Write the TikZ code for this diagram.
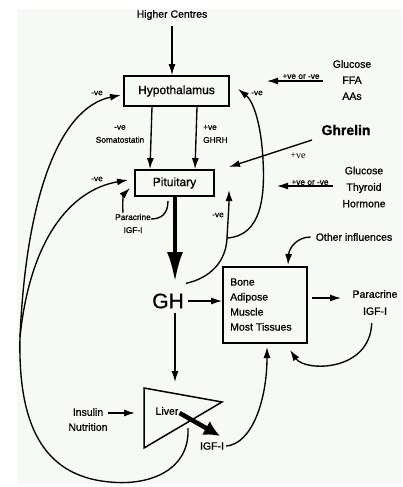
\documentclass[tikz,border=0pt]{standalone}
\usepackage{fontspec}
\setmainfont{Liberation Sans}[FakeBold=0.8]
\newfontfamily\seriffam{Liberation Serif}
\usetikzlibrary{arrows.meta}
\definecolor{panel}{RGB}{247,249,244}
\begin{document}
\begin{tikzpicture}[x=1pt,y=-1pt,
  txt/.style={font=\fontsize{10.5}{15}\selectfont, inner sep=0pt, align=center},
  sml/.style={font=\fontsize{8.3}{13}\selectfont, inner sep=0pt, align=center},
  boxed/.style={draw, line width=1.8pt, inner sep=0pt},
  arr/.style={line width=1.35pt, -{Latex[length=11pt,width=7pt]}},
  ln/.style={line width=1.35pt},
]
\useasboundingbox (0,0) rectangle (402,487);
\fill[panel] (17,9) rectangle (402,484);

% ---------- nodes ----------
\node[txt] (hc) at (172,15) {Higher Centres};
\node[boxed, minimum width=105pt, minimum height=30pt, font=\fontsize{12}{14}\selectfont] (hyp) at (176.5,91) {Hypothalamus};
\node[boxed, minimum width=79pt, minimum height=26pt, font=\fontsize{12}{14}\selectfont] (pit) at (174.5,183) {Pituitary};
\node[boxed, minimum width=84pt, minimum height=76pt] (tis) at (265,305) {};
\node[txt, align=left, anchor=west] (tistxt) at (230,304.5) {Bone\\Adipose\\Muscle\\Most Tissues};
\node[inner sep=0pt, font=\fontsize{21}{24}\selectfont] (gh) at (168,301) {GH};

\node[txt, font=\fontsize{10.5}{16}\selectfont] (g1) at (352,80) {Glucose\\FFA\\AAs};
\node[inner sep=0pt, font=\bfseries\fontsize{14}{16}\selectfont] (ghr) at (346,130) {Ghrelin};
\node[txt, font=\fontsize{10.5}{16.5}\selectfont] (gth) at (364,187) {Glucose\\Thyroid\\Hormone};
\node[txt] (oi) at (354,237) {Other influences};
\node[txt, font=\fontsize{10.5}{17}\selectfont] (rp) at (375,302.5) {Paracrine\\IGF-I};
\node[sml] (pl) at (133,223.5) {Paracrine\\IGF-I};
\node[txt] (liver) at (167,411) {Liver};
\node[txt] (igfl) at (212,446) {IGF-I};
\node[txt] (ins) at (88,419.5) {Insulin\\Nutrition};

% small labels
\node[sml] (l1) at (97,93) {-ve};
\node[sml] (l2) at (97,179) {-ve};
\node[sml] (l3) at (257,93) {-ve};
\node[sml] (l4) at (218,215) {-ve};
\node[sml] (l5) at (120,134) {-ve\\Somatostatin};
\node[sml, align=left, anchor=west] (l6) at (203,134) {+ve\\GHRH};
\node[sml] (l7) at (301,76.5) {+ve or -ve};
\node[sml] (l8) at (310,182.5) {+ve or -ve};
\node[inner sep=0pt, font=\seriffam\fontsize{10}{12}\selectfont] (l9) at (298,156) {+ve};

% liver shape
\draw[line width=1.5pt, line join=miter] (144,388) -- (222,402) -- (144,448) -- cycle;

% ---------- coordinates ----------
\coordinate (livtop) at (175,382);
\coordinate (livleft) at (135,413);
\coordinate (livout) at (220,436);
\coordinate (livbot) at (188,428);
\coordinate (ghs) at (312,140);
\coordinate (ghe) at (229,167);
\coordinate (g1e) at (267,81);
\coordinate (gthe) at (277,186);
\coordinate (tisb1) at (267,347);
\coordinate (tisb2) at (290,350);
\coordinate (rpe) at (341,298);
\coordinate (tiso) at (312,298);
\coordinate (oit) at (288,265);
\coordinate (hypl) at (121,95);
\coordinate (pitl) at (128,180);
\coordinate (hypr) at (238,89);
\coordinate (pitr) at (229,190);
\coordinate (ghtop) at (175,282);

% ---------- connectors ----------
\draw[arr, shorten <=6pt] (hc.south) -- (hc.south |- hyp.north);
\draw[arr] ([xshift=-24.5pt]hyp.south) -- ([xshift=-24.5pt]pit.north);
\draw[arr] ([xshift=20.5pt]hyp.south) -- ([xshift=20.5pt]pit.north);
\draw[line width=3.8pt, -{Latex[length=30pt,width=16pt]}] ([xshift=0.5pt]pit.south) -- (ghtop);
\draw[arr, shorten <=4pt] (gh.east) -- (gh.east -| tis.west);
\draw[arr, shorten <=4pt] (gh.south -| livtop) -- (livtop);
\draw[arr] (ins.east |- livleft) -- (livleft);
\draw[line width=4.5pt, -{Latex[length=16pt,width=16pt]}] ([xshift=1pt,yshift=-2pt]liver.east) -- (livout);
\draw[arr] ([xshift=2pt]igfl.east) .. controls (252,444) and (267,400) .. (tisb1);
\draw[arr] (tiso) -- (rpe);
\draw[arr, shorten <=8pt] ([xshift=-3pt]rp.south) .. controls (370,372) and (305,372) .. (tisb2);
\draw[arr] ([xshift=-5pt]oi.west) .. controls (297,237) and (289,248) .. (oit);
\draw[arr] ([xshift=-10pt,yshift=-1pt]g1.west) -- (g1e);
\draw[arr] ([xshift=-9pt,yshift=1pt]gth.west) -- (gthe);
\draw[arr] (ghs) -- (ghe);

% feedback from GH
\draw[arr] ([xshift=2pt,yshift=10pt]gh.north east) .. controls (210,278) and (226,262) .. (227,238) coordinate (br) .. controls (228,220) and (229,205) .. (pitr);
\draw[arr] (br) .. controls (262,236) and (265,195) .. (263,160) .. controls (261,120) and (252,100) .. (hypr);

% feedback from liver IGF-I
\draw[ln] (livbot) .. controls (190,470) and (150,486) .. (110,482) .. controls (40,476) and (18,420) .. (20,337) coordinate (lj);
\draw[arr] (lj) .. controls (26,200) and (58,108) .. (hypl);
\draw[arr] (lj) .. controls (30,240) and (70,190) .. (pitl);

% paracrine IGF-I at pituitary
\draw[ln] ([xshift=-6.5pt,yshift=-4pt]pit.south) .. controls (168,214) and (161,219) .. ([yshift=4.5pt]pl.east);
\draw[arr] ([xshift=-10pt,yshift=1pt]pl.north) .. controls (122,200) and (124,194) .. (130,188);
\end{tikzpicture}
\end{document}
